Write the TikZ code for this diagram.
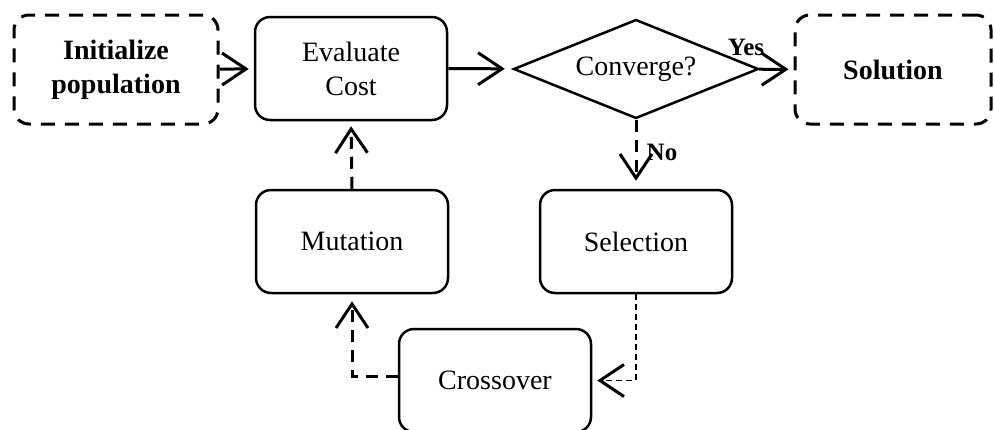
\documentclass[tikz,border=0pt]{standalone}
\usepackage{fontspec}
\setmainfont{Liberation Serif}
\usetikzlibrary{shapes.geometric,arrows.meta}
\begin{document}
\begin{tikzpicture}[x=1pt,y=-1pt,
  box/.style={draw, rounded corners=15pt, line width=2.5pt, minimum width=192pt, minimum height=103pt, align=center, inner sep=0pt, font=\fontsize{28}{34}\selectfont},
  dbox/.style={box, dash pattern=on 14pt off 10pt, line width=3pt, minimum width=204pt, minimum height=109pt, font=\bfseries\fontsize{28}{34}\selectfont},
  dec/.style={draw, diamond, aspect=2.47, inner sep=0pt, line width=2.5pt, minimum width=245pt, minimum height=99pt, font=\fontsize{28}{34}\selectfont},
  lbl/.style={font=\bfseries\fontsize{25}{29}\selectfont, inner sep=0pt},
  arr/.style={-{Straight Barb[length=24pt,width=32pt,line width=3pt]}, line width=3pt},
  thinarr/.style={arr, line width=1.6pt, dash pattern=on 6pt off 4pt},
  dsh/.style={dash pattern=on 12pt off 8pt}
]
\useasboundingbox (0,0) rectangle (994,429);
\node[dbox] (init) at (116,69.5) {Initialize\\population};
\node[box] (eval) at (351,68.5) {Evaluate\\Cost};
\node[dec] (conv) at (636,69) {Converge?};
\node[dbox, minimum width=196pt] (sol) at (893,69.5) {Solution};
\node[box] (mut) at (352,241.5) {Mutation};
\node[box] (sel) at (636,241.5) {Selection};
\node[box] (cross) at (495,380.5) {Crossover};

\draw[arr, shorten >=5pt] (init) -- (eval);
\draw[arr, shorten >=8pt] (eval) -- (conv);
\draw[arr, shorten >=5pt] (conv) -- (sol);
\node[lbl] (yes) at (746,47) {Yes};
\draw[arr, dsh, shorten >=8pt] (conv.south) -- (sel.north);
\node[lbl] (no) at (662,152) {No};
\draw[thinarr, shorten >=5pt] (sel.south) |- (cross.east);
\draw[arr, dsh, shorten >=7pt] ([yshift=4pt]cross.west) -| (mut.south);
\draw[arr, dsh, shorten >=5pt] (mut.north) -- (eval.south);
\end{tikzpicture}
\end{document}
